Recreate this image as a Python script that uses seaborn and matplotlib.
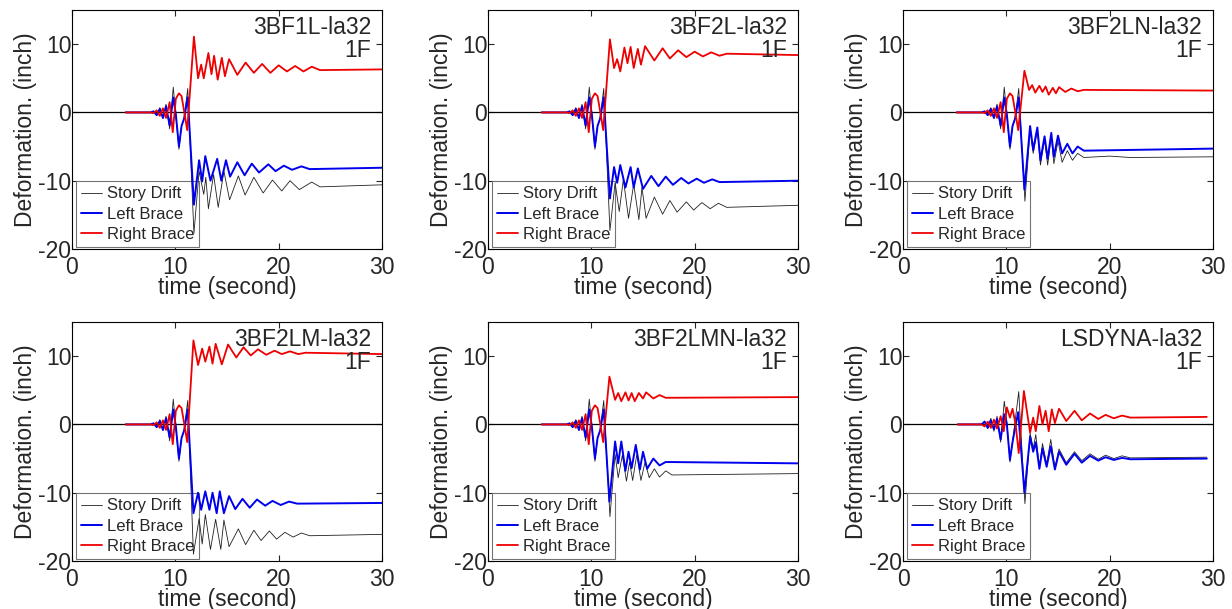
import matplotlib
matplotlib.use("Agg")
import matplotlib.pyplot as plt
import seaborn as sns
import pandas as pd

# ---------------- data (time [s], deformation [inch]) ----------------
TITLES = ["3BF1L-la32", "3BF2L-la32", "3BF2LN-la32",
          "3BF2LM-la32", "3BF2LMN-la32", "LSDYNA-la32"]
STORY = "1F"
SERIES = ["Story Drift", "Left Brace", "Right Brace"]

# common pre-event response (panels 1-5)
PRE_DRIFT = [(5.2, 0), (7.6, 0), (7.9, 0.2), (8.2, -0.4), (8.5, 0.7), (8.8, -0.9), (9.1, 1.2),
             (9.45, -2.4), (9.8, 3.7), (10.05, -0.5), (10.35, -5.4), (10.6, -2.0), (10.85, -0.8), (11.2, 3.5)]
PRE_LEFT = [(5.2, 0), (7.6, 0), (7.9, 0.15), (8.2, -0.4), (8.5, 0.5), (8.8, -0.8), (9.1, 0.9),
            (9.45, -1.9), (9.8, 2.2), (10.05, -0.3), (10.35, -5.0), (10.6, -2.0), (10.85, -0.9), (11.2, 2.2)]
PRE_RIGHT = [(5.2, 0), (7.6, 0), (7.9, -0.1), (8.2, 0.3), (8.5, -0.5), (8.8, 0.6), (9.1, -0.8),
             (9.45, 1.5), (9.75, -2.9), (10.05, 2.0), (10.35, 2.8), (10.6, 2.4), (10.85, 0.2), (11.15, -2.6)]

# pre-event response for LSDYNA
PRE6_DRIFT = [(5.3, 0), (7.6, 0), (7.9, 0.5), (8.2, -0.6), (8.5, 0.9), (8.8, -1.0), (9.1, 1.2),
              (9.45, -2.6), (9.8, 3.4), (10.05, 0.5), (10.35, -5.5), (10.6, -2.5), (10.85, 0.5), (11.2, 4.8)]
PRE6_LEFT = [(5.3, 0), (7.6, 0), (7.9, 0.4), (8.2, -0.5), (8.5, 0.6), (8.8, -0.7), (9.1, 0.8),
             (9.45, -2.2), (9.8, 1.5), (10.05, 0.0), (10.35, -5.2), (10.6, -2.6), (10.85, -0.5), (11.15, 1.8)]
PRE6_RIGHT = [(5.3, 0), (7.6, 0), (7.9, -0.3), (8.2, 0.4), (8.5, -0.5), (8.8, 0.7), (9.1, -0.6),
              (9.45, 1.2), (9.75, -1.0), (10.05, 2.5), (10.35, 1.0), (10.6, 2.3), (10.9, 0.0), (11.2, -4.2)]

# post-event responses
P1_DRIFT = [(11.8, -17.7), (12.3, -8.6), (12.75, -12.0), (12.95, -9.5), (13.2, -14.1), (13.7, -9.1), (14.15, -13.9),
            (14.7, -8.6), (15.25, -12.8), (16.1, -9.3), (16.75, -12.1), (17.6, -9.5), (18.5, -11.8), (19.4, -9.9),
            (20.3, -11.5), (21.1, -10.0), (22.0, -11.3), (23.2, -10.2), (24.0, -10.9), (30.0, -10.6)]
P1_LEFT = [(11.8, -13.5), (12.3, -7.0), (12.6, -10.1), (12.9, -6.4), (13.4, -10.0), (14.05, -6.8), (14.45, -10.0),
           (14.9, -7.0), (15.3, -9.4), (16.0, -7.3), (16.7, -9.2), (17.4, -7.5), (18.1, -8.8), (19.0, -7.6),
           (19.7, -8.6), (20.5, -7.8), (21.3, -8.4), (22.2, -7.9), (23.0, -8.3), (30.0, -8.1)]
P1_RIGHT = [(11.8, 11.1), (12.2, 5.0), (12.5, 7.0), (12.75, 5.0), (13.2, 8.7), (13.5, 5.6), (13.75, 8.3),
            (14.1, 4.8), (14.5, 8.0), (14.8, 5.3), (15.2, 7.8), (16.0, 5.5), (16.8, 7.3), (17.6, 5.8),
            (18.4, 7.1), (19.2, 5.8), (20.0, 6.9), (20.8, 6.0), (21.6, 6.8), (22.4, 6.0), (23.2, 6.7), (24.0, 6.2), (30.0, 6.3)]

P2_DRIFT = [(11.8, -17.3), (12.3, -10.3), (12.7, -14.5), (13.1, -9.8), (13.6, -15.5), (14.1, -10.5), (14.6, -15.7),
            (14.9, -11.0), (15.3, -15.5), (16.1, -12.4), (16.9, -14.9), (17.6, -12.9), (18.3, -14.6), (19.2, -13.1),
            (19.9, -14.3), (20.7, -13.2), (21.5, -14.1), (22.3, -13.3), (23.1, -13.9), (30.0, -13.6)]
P2_LEFT = [(11.8, -12.6), (12.2, -8.0), (12.5, -10.3), (12.8, -7.7), (13.3, -11.0), (13.8, -8.0), (14.1, -11.0),
           (14.5, -8.2), (15.0, -11.2), (15.8, -9.3), (16.5, -10.8), (17.2, -9.4), (17.9, -10.6), (18.7, -9.6),
           (19.4, -10.4), (20.2, -9.7), (20.9, -10.3), (21.7, -9.8), (22.4, -10.2), (30.0, -10.0)]
P2_RIGHT = [(11.8, 10.7), (12.2, 6.5), (12.5, 7.8), (12.8, 6.0), (13.2, 9.5), (13.5, 7.2), (13.8, 9.6),
            (14.1, 6.5), (14.5, 9.3), (14.8, 7.0), (15.2, 9.7), (16.1, 7.6), (16.9, 9.4), (17.6, 7.9),
            (18.4, 9.1), (19.2, 8.1), (20.0, 8.9), (20.8, 8.2), (21.6, 8.8), (22.4, 8.3), (23.1, 8.6), (30.0, 8.4)]

P3_DRIFT = [(11.8, -13.0), (12.3, -2.6), (12.6, -6.0), (13.0, -2.6), (13.3, -7.7), (13.7, -4.0), (14.0, -7.7),
            (14.35, -3.5), (14.6, -7.5), (15.0, -4.2), (15.4, -7.3), (15.9, -5.6), (16.4, -7.0), (16.9, -6.0),
            (17.5, -6.6), (20.0, -6.4), (22.0, -6.6), (30.0, -6.5)]
P3_LEFT = [(11.75, -11.3), (12.3, -2.0), (12.6, -5.5), (13.0, -2.2), (13.3, -7.0), (13.7, -3.5), (14.0, -6.8),
           (14.35, -3.0), (14.6, -6.5), (15.0, -3.4), (15.4, -6.0), (15.9, -4.6), (16.4, -6.0), (16.9, -5.0),
           (17.5, -5.6), (30.0, -5.3)]
P3_RIGHT = [(11.75, 6.1), (12.2, 3.3), (12.5, 4.0), (12.8, 2.9), (13.2, 3.9), (13.5, 3.0), (13.8, 3.8),
            (14.1, 2.6), (14.5, 3.6), (14.8, 2.8), (15.1, 3.7), (15.7, 3.0), (16.3, 3.5), (16.9, 3.1), (17.5, 3.3), (30.0, 3.2)]

P4_DRIFT = [(11.75, -19.0), (12.3, -13.8), (12.6, -17.5), (12.9, -13.2), (13.4, -18.3), (13.9, -13.9), (14.4, -18.3),
            (14.7, -14.0), (15.2, -17.9), (16.1, -15.3), (16.8, -17.6), (17.6, -15.5), (18.3, -17.0), (19.1, -15.6),
            (19.8, -16.8), (20.6, -15.8), (21.4, -16.5), (22.2, -15.9), (23.0, -16.3), (30.0, -16.1)]
P4_LEFT = [(11.75, -13.0), (12.2, -10.0), (12.5, -12.5), (12.9, -9.8), (13.3, -12.5), (13.6, -10.0), (14.0, -13.0),
           (14.3, -9.8), (14.7, -13.0), (15.2, -10.5), (15.8, -12.4), (16.5, -10.9), (17.2, -12.2), (17.9, -11.0),
           (18.7, -11.9), (19.4, -11.2), (20.2, -11.8), (21.0, -11.3), (21.8, -11.6), (30.0, -11.5)]
P4_RIGHT = [(11.75, 12.3), (12.2, 8.7), (12.6, 11.1), (12.9, 9.2), (13.3, 11.4), (13.6, 8.9), (13.9, 11.8),
            (14.5, 8.8), (15.1, 11.7), (15.9, 9.8), (16.6, 11.3), (17.3, 10.1), (18.0, 11.0), (18.8, 10.2),
            (19.6, 10.8), (20.3, 10.3), (21.1, 10.7), (21.9, 10.3), (22.6, 10.5), (30.0, 10.3)]

P5_DRIFT = [(11.8, -13.5), (12.3, -4.4), (12.6, -7.8), (13.0, -4.5), (13.4, -8.3), (13.7, -5.5), (14.0, -8.2),
            (14.4, -4.4), (14.8, -8.2), (15.2, -5.5), (15.6, -7.8), (16.1, -6.5), (16.6, -7.7), (17.2, -6.8),
            (17.8, -7.4), (30.0, -7.2)]
P5_LEFT = [(11.75, -11.3), (12.3, -2.5), (12.6, -5.7), (12.9, -2.5), (13.3, -6.8), (13.6, -4.0), (13.9, -6.4),
           (14.3, -3.0), (14.7, -6.6), (15.0, -4.0), (15.4, -6.5), (16.0, -5.0), (16.6, -6.0), (17.2, -5.5), (30.0, -5.7)]
P5_RIGHT = [(11.75, 7.0), (12.3, 3.6), (12.6, 4.6), (12.9, 3.4), (13.3, 4.7), (13.6, 3.5), (13.9, 4.6),
            (14.2, 3.4), (14.6, 4.6), (15.0, 3.8), (15.3, 4.7), (16.0, 3.8), (16.6, 4.3), (17.2, 3.9), (30.0, 4.0)]

P6_DRIFT = [(11.8, -11.6), (12.3, -1.3), (12.6, -3.5), (12.85, -1.5), (13.2, -6.2), (13.5, -2.8), (13.9, -5.8),
            (14.3, -2.2), (14.7, -6.3), (15.1, -3.6), (15.8, -5.6), (16.6, -4.0), (17.3, -5.3), (18.1, -4.3),
            (18.9, -5.1), (19.6, -4.5), (20.4, -5.0), (21.2, -4.6), (22.0, -4.9), (29.4, -4.8)]
P6_LEFT = [(11.75, -10.0), (12.3, -1.8), (12.6, -4.0), (12.85, -2.6), (13.2, -6.5), (13.5, -3.5), (13.9, -6.2),
           (14.3, -3.2), (14.7, -6.6), (15.1, -4.0), (15.8, -5.9), (16.6, -4.3), (17.3, -5.6), (18.1, -4.6),
           (18.9, -5.3), (19.6, -4.8), (20.4, -5.2), (21.2, -4.9), (22.0, -5.1), (29.4, -5.0)]
P6_RIGHT = [(11.7, 4.9), (12.3, -1.2), (12.6, 1.0), (12.85, -1.0), (13.2, 2.7), (13.5, 0.0), (13.8, 2.0),
            (14.1, -1.0), (14.4, 2.2), (14.7, 0.2), (15.1, 2.3), (15.8, 0.5), (16.6, 2.0), (17.3, 0.6),
            (18.1, 1.6), (18.9, 0.8), (19.6, 1.4), (20.4, 0.9), (21.2, 1.3), (22.0, 1.0), (29.4, 1.1)]

PANELS = [
    (PRE_DRIFT + P1_DRIFT, PRE_LEFT + P1_LEFT, PRE_RIGHT + P1_RIGHT),
    (PRE_DRIFT + P2_DRIFT, PRE_LEFT + P2_LEFT, PRE_RIGHT + P2_RIGHT),
    (PRE_DRIFT + P3_DRIFT, PRE_LEFT + P3_LEFT, PRE_RIGHT + P3_RIGHT),
    (PRE_DRIFT + P4_DRIFT, PRE_LEFT + P4_LEFT, PRE_RIGHT + P4_RIGHT),
    (PRE_DRIFT + P5_DRIFT, PRE_LEFT + P5_LEFT, PRE_RIGHT + P5_RIGHT),
    (PRE6_DRIFT + P6_DRIFT, PRE6_LEFT + P6_LEFT, PRE6_RIGHT + P6_RIGHT),
]

XTICKS = [0, 10, 20, 30]
YTICKS = [-20, -10, 0, 10]

# ---------------- styling ----------------
sns.set_style("ticks")
plt.rcParams['font.family'] = ['Liberation Sans', 'DejaVu Sans']
plt.rcParams['axes.unicode_minus'] = False

COLORS = ["#202020", "#0000ee", "#ee0000"]
WIDTHS = [0.6, 1.4, 1.3]
FS = 16.5

W, H = 1232, 609
fig = plt.figure(figsize=(W / 100, H / 100), dpi=100)

lefts = [72, 488, 903]
tops = [10, 322]
aw, ah = 310, 239

for i, (title, series) in enumerate(zip(TITLES, PANELS)):
    r, c = divmod(i, 3)
    ax = fig.add_axes([lefts[c] / W, 1 - (tops[r] + ah) / H, aw / W, ah / H])
    ax.axhline(0, color="black", lw=0.9, zorder=1)
    for name, pts, col, lw in zip(SERIES, series, COLORS, WIDTHS):
        df = pd.DataFrame(pts, columns=["time", "value"])
        sns.lineplot(data=df, x="time", y="value", ax=ax, color=col, lw=lw,
                     estimator=None, sort=False, label=name, zorder=3)
    ax.set_xlim(0, 30)
    ax.set_ylim(-20, 15)
    ax.set_xticks(XTICKS)
    ax.set_yticks(YTICKS)
    ax.tick_params(axis="both", direction="in", top=True, right=True,
                   length=4, width=0.8, labelsize=FS)
    ax.tick_params(axis="x", pad=5)
    ax.tick_params(axis="y", pad=0.5)
    for s in ax.spines.values():
        s.set_linewidth(0.8)
        s.set_color("black")
    ax.set_xlabel("time (second)", fontsize=FS, labelpad=-2)
    ax.set_ylabel("Deformation. (inch)", fontsize=FS, labelpad=1)
    ax.text(0.965, 0.975, f"{title}\n{STORY}", transform=ax.transAxes,
            ha="right", va="top", multialignment="right", fontsize=FS, linespacing=1.0)
    leg = ax.legend(loc="lower left", bbox_to_anchor=(0.012, 0.008), borderaxespad=0,
                    frameon=True, fancybox=False, edgecolor="0.45", fontsize=12,
                    handlelength=1.3, handletextpad=0.25, labelspacing=0.32, borderpad=0.3)
    leg.get_frame().set_linewidth(0.8)
    leg.get_frame().set_alpha(1)
    leg.set_zorder(2)

fig.savefig("out.png", dpi=100)
